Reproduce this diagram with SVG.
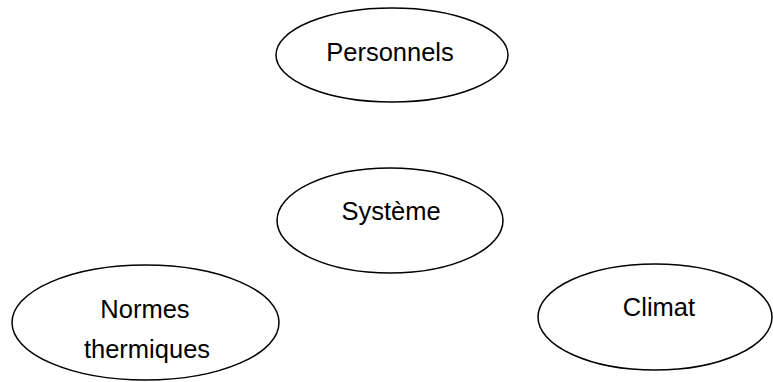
<svg xmlns="http://www.w3.org/2000/svg" width="773" height="382" viewBox="0 0 773 382">
<style>
.node ellipse{fill:#ffffff;stroke:#000000;stroke-width:1.5}
.node text{font-family:"Liberation Sans",Arial,sans-serif;font-size:25.5px;fill:#000000;text-anchor:middle}
</style>
<rect x="0" y="0" width="773" height="382" fill="#ffffff"/>
<g id="connectors"></g>
<g id="personnels" class="node">
<ellipse cx="392" cy="55" rx="116" ry="47"/>
<text x="390" y="61">Personnels</text>
</g>
<g id="systeme" class="node">
<ellipse cx="390" cy="220.5" rx="113" ry="52.5"/>
<text x="391" y="220">Système</text>
</g>
<g id="normes" class="node">
<ellipse cx="145.5" cy="322.5" rx="133.5" ry="57.5"/>
<text x="145" y="318">Normes</text>
<text x="147" y="358">thermiques</text>
</g>
<g id="climat" class="node">
<ellipse cx="655" cy="317" rx="117" ry="53"/>
<text x="659" y="316">Climat</text>
</g>
</svg>
